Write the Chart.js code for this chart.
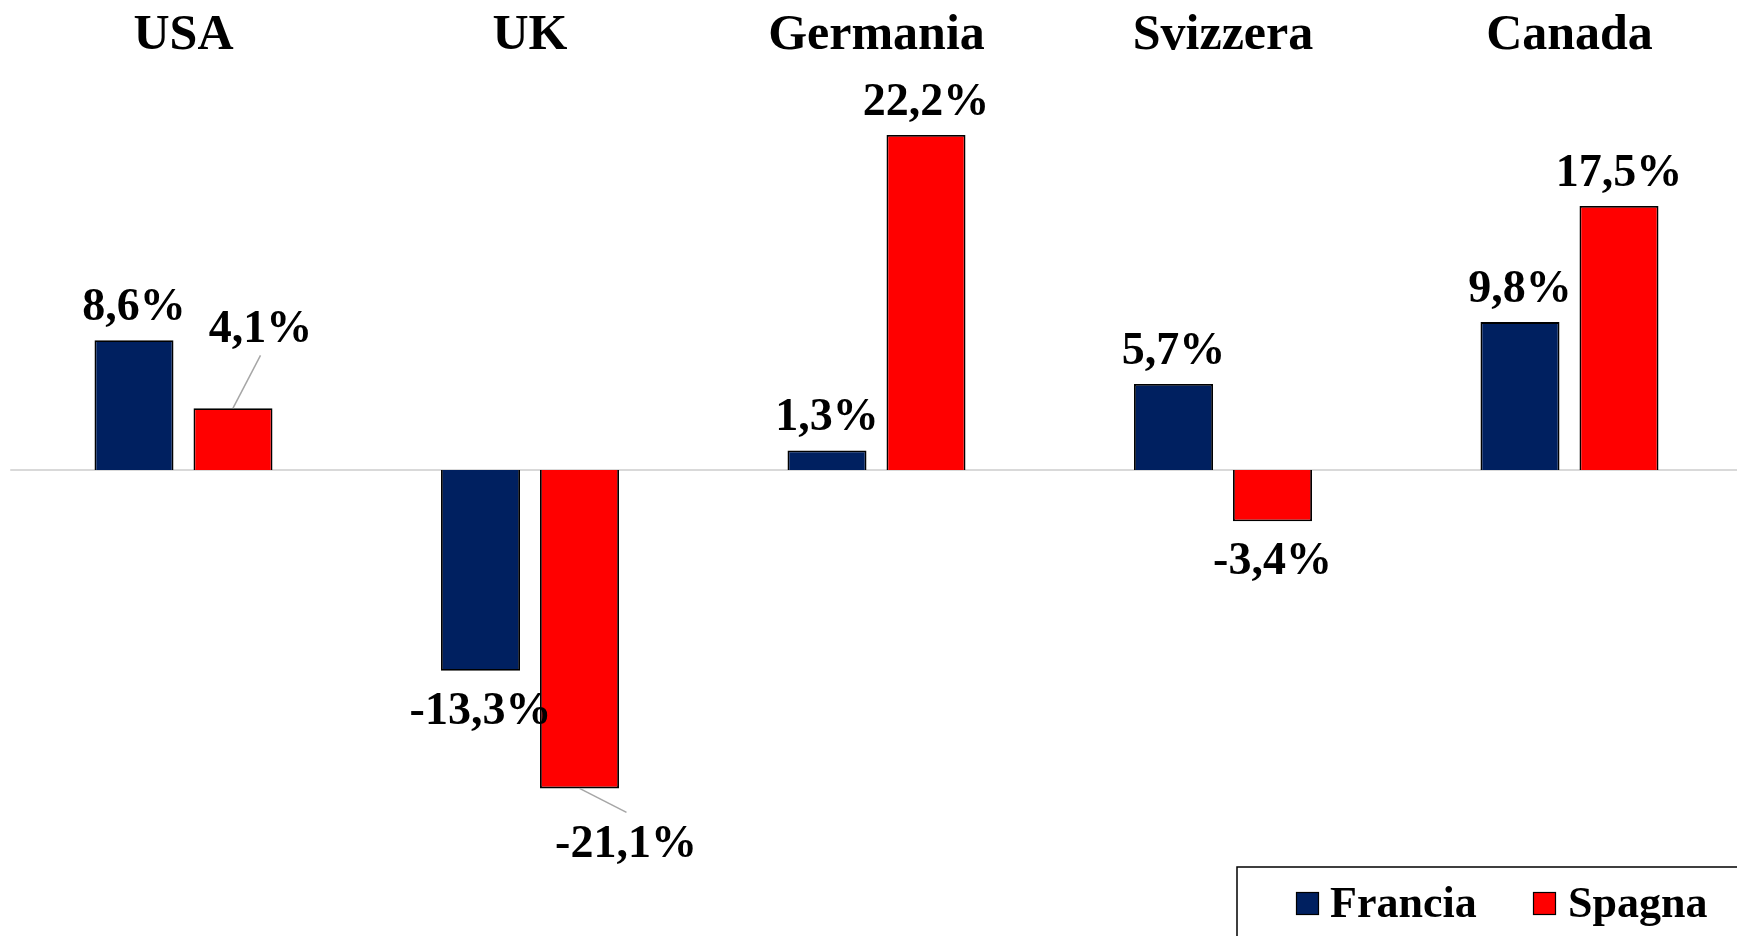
<!DOCTYPE html>
<html>
<head>
<meta charset="utf-8">
<script src="https://cdn.jsdelivr.net/npm/chart.js@4/dist/chart.umd.min.js"></script>
<style>
  html, body { margin: 0; padding: 0; background: #fff; overflow: hidden; }
  #wrap { width: 1745px; height: 936px; }
</style>
</head>
<body>
<div id="wrap"><canvas id="c" width="1745" height="936"></canvas></div>
<script>
const categories = ['USA', 'UK', 'Germania', 'Svizzera', 'Canada'];
const seriesNames = ['Francia', 'Spagna'];
const francia = [8.6, -13.3, 1.3, 5.7, 9.8];
const spagna = [4.1, -21.1, 22.2, -3.4, 17.5];
const seriesColors = ['#002060', '#FF0000'];

const FONT = "'Liberation Serif', 'Times New Roman', serif";

function fmt(v) {
  return v.toFixed(1).replace('.', ',') + '%';
}

// special label placements with leader lines
const leaderLabels = [
  { ds: 1, i: 0, dx: 27.5, dy: -66, lx: 27.5, ly: -52.7 },
  { ds: 1, i: 1, dx: 46.5, dy: 69, lx: 47, ly: 24 }
];

const baselinePlugin = {
  id: 'baseline',
  beforeDatasetsDraw(chart) {
    const { ctx, chartArea, scales } = chart;
    const y0 = scales.y.getPixelForValue(0);
    ctx.save();
    ctx.strokeStyle = '#d9d9d9';
    ctx.lineWidth = 2;
    ctx.beginPath();
    ctx.moveTo(chartArea.left, y0);
    ctx.lineTo(chartArea.right, y0);
    ctx.stroke();
    ctx.restore();
  }
};

const labelsPlugin = {
  id: 'valueLabels',
  afterDatasetsDraw(chart) {
    const { ctx, scales } = chart;
    ctx.save();
    // category titles
    ctx.fillStyle = '#000';
    ctx.font = "bold 50px " + FONT;
    ctx.textAlign = 'center';
    ctx.textBaseline = 'alphabetic';
    categories.forEach((c, i) => {
      ctx.fillText(c, scales.x.getPixelForValue(i), 49);
    });
    // value labels
    ctx.font = "bold 46px " + FONT;
    chart.data.datasets.forEach((ds, di) => {
      const meta = chart.getDatasetMeta(di);
      meta.data.forEach((bar, i) => {
        const v = ds.data[i];
        const special = leaderLabels.find(s => s.ds === di && s.i === i);
        let x = bar.x, y;
        if (special) {
          ctx.strokeStyle = '#a6a6a6';
          ctx.lineWidth = 1.5;
          ctx.beginPath();
          ctx.moveTo(bar.x, bar.y);
          ctx.lineTo(bar.x + special.lx, bar.y + special.ly);
          ctx.stroke();
          x = bar.x + special.dx;
          y = bar.y + special.dy;
        } else if (v >= 0) {
          y = bar.y - 20;
        } else {
          y = bar.y + 53;
        }
        ctx.fillStyle = '#000';
        ctx.fillText(fmt(v), x, y);
      });
    });
    // legend
    ctx.strokeStyle = '#000';
    ctx.lineWidth = 1.5;
    ctx.strokeRect(1237, 867, 600, 200);
    ctx.font = "bold 44px " + FONT;
    ctx.textAlign = 'left';
    const items = [
      { sx: 1296, tx: 1330 },
      { sx: 1533, tx: 1568 }
    ];
    chart.data.datasets.forEach((ds, di) => {
      const it = items[di];
      ctx.fillStyle = ds.backgroundColor;
      ctx.fillRect(it.sx, 892, 23, 23);
      ctx.strokeStyle = '#000';
      ctx.lineWidth = 1.2;
      ctx.strokeRect(it.sx + 0.5, 892.5, 22, 22);
      ctx.fillStyle = '#000';
      ctx.fillText(ds.label, it.tx, 917);
    });
    ctx.restore();
  }
};

new Chart(document.getElementById('c'), {
  type: 'bar',
  data: {
    labels: categories,
    datasets: [
      { label: seriesNames[0], data: francia, backgroundColor: seriesColors[0], borderColor: '#000', borderWidth: 1.8 },
      { label: seriesNames[1], data: spagna, backgroundColor: seriesColors[1], borderColor: '#000', borderWidth: 1.8 }
    ]
  },
  options: {
    responsive: false,
    animation: false,
    devicePixelRatio: 1,
    layout: { padding: { left: 10.25, right: 2.25, top: 17.3, bottom: 13.3 } },
    datasets: { bar: { categoryPercentage: 0.5714, barPercentage: 0.798 } },
    scales: {
      x: { display: false },
      y: { display: false, min: -30, max: 30 }
    },
    plugins: {
      legend: { display: false },
      tooltip: { enabled: false }
    }
  },
  plugins: [baselinePlugin, labelsPlugin]
});
</script>
</body>
</html>
